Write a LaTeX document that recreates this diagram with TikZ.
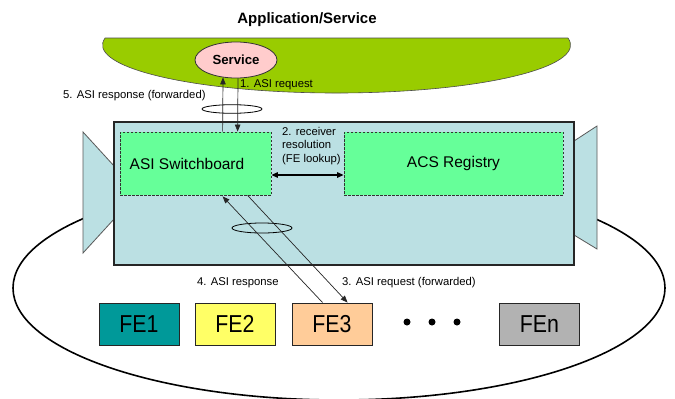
\documentclass[tikz,border=0pt]{standalone}
\usepackage{fontspec}
\setmainfont{Liberation Sans}
\usepackage{graphicx}
\usetikzlibrary{shapes.geometric,arrows.meta,calc}
\definecolor{panelblue}{HTML}{BBE0E3}
\definecolor{boxgreen}{HTML}{66FF99}
\definecolor{appgreen}{HTML}{99CC00}
\definecolor{servpink}{HTML}{FFCCCC}
\definecolor{feteal}{HTML}{009999}
\definecolor{feyellow}{HTML}{FFFF66}
\definecolor{feorange}{HTML}{FFCC99}
\definecolor{fegray}{HTML}{B2B2B2}
\newcommand{\narrowtxt}[1]{\scalebox{0.87}[1]{#1}}
\begin{document}
\begin{tikzpicture}[x=1pt,y=-1pt,
  lbl/.style={font=\fontsize{11.3}{13.2}\selectfont, inner sep=0pt},
  arr/.style={-{Triangle[length=7pt,width=5.5pt]}, line width=0.7pt, draw=black!85},
  febox/.style={draw=black!85, line width=0.9pt, minimum width=80pt, minimum height=42pt, inner sep=0pt, font=\fontsize{24.5}{24.5}\selectfont},
  inbox/.style={draw=black!80, line width=0.8pt, dash pattern=on 2.5pt off 1.5pt, fill=boxgreen, minimum height=63pt, inner sep=0pt, font=\fontsize{15.5}{15.5}\selectfont},
  flap/.style={fill=panelblue, draw=black!65, line width=0.8pt, line join=miter},
  twist/.style={draw=black, line width=0.8pt},
  dotnode/.style={circle, fill=black, inner sep=0pt, minimum size=7pt}
]
\useasboundingbox (0,0) rectangle (675,399);
\fill[white] (0,0) rectangle (675,399);

% big ellipse (functional entities domain)
\draw[line width=1.6pt] (339,288) ellipse [x radius=326, y radius=112];

% side flaps
\draw[flap] (83,132) -- (115,167) -- (115,218) -- (83,253) -- cycle;
\draw[flap] (574,141) -- (597,126) -- (597,249) -- (574,235) -- cycle;

% central panel
\node[draw=black!85, line width=1.1pt, fill=panelblue, minimum width=460pt, minimum height=143pt, inner sep=0pt] (panel) at (344,193.5) {};

% application/service area
\draw[fill=appgreen, draw=black!70, line width=0.6pt] (106,38) -- (568,38) arc[start angle=-8.4, end angle=188.4, x radius=234, y radius=48] -- cycle;
\node[font=\bfseries\fontsize{15}{15}\selectfont, anchor=base, inner sep=0pt] (title) at (307,23.3) {Application/Service};
\node[ellipse, draw=black!80, line width=0.8pt, fill=servpink, minimum width=82pt, minimum height=36pt, inner sep=0pt, font=\bfseries\fontsize{13.2}{13.2}\selectfont] (service) at (236,60) {Service};

% inner boxes
\node[inbox, minimum width=151pt] (sw) at (195.5,163.5) {ASI Switchboard\hspace*{17pt}};
\node[inbox, minimum width=219pt] (acs) at (453.5,163.5) {ACS Registry};

% FE boxes
\node[febox, fill=feteal] (fe1) at (139,324) {\narrowtxt{FE1}};
\node[febox, fill=feyellow] (fe2) at (235,324) {\narrowtxt{FE2}};
\node[febox, fill=feorange] (fe3) at (332,324) {\narrowtxt{FE3}};
\node[febox, fill=fegray] (fen) at (539.5,324) {\narrowtxt{FEn}};
\node[dotnode] (d1) at (407,322) {};
\node[dotnode] (d2) at (432,322) {};
\node[dotnode] (d3) at (457,322) {};

% twist marks
\draw[twist] (232,109) ellipse [x radius=30, y radius=4.3];
\draw[twist] (262,228) ellipse [x radius=30, y radius=5];

% connectors
\draw[arr] ($(sw.north west)+(103,0)$) -- ($(service.south)+(-13,-1)$);
\draw[arr] ($(service.south)+(2,0)$) -- ($(sw.north west)+(118,0)$);
\draw[arr] ($(fe3.north west)+(31,0)$) -- ($(sw.south west)+(103,1)$);
\draw[arr] ($(sw.south west)+(128,0)$) -- ($(fe3.north west)+(56,0)$);
\draw[{Triangle[length=6.5pt,width=5.5pt]}-{Triangle[length=6.5pt,width=5.5pt]}, line width=1.2pt] ($(sw.east)+(0,11.5)$) -- ($(acs.west)+(0,11.5)$);

% labels
\node[lbl, anchor=base west] (l1) at (240,87) {1. ASI request};
\node[lbl, anchor=base west] (l5) at (63,98.3) {5. ASI response (forwarded)};
\node[lbl, anchor=base west, align=left] (l2) at (282,162) {2. receiver\\resolution\\(FE lookup)};
\node[lbl, anchor=base west] (l4) at (197,285) {4. ASI response};
\node[lbl, anchor=base west] (l3) at (342,285) {3. ASI request (forwarded)};
\end{tikzpicture}
\end{document}
